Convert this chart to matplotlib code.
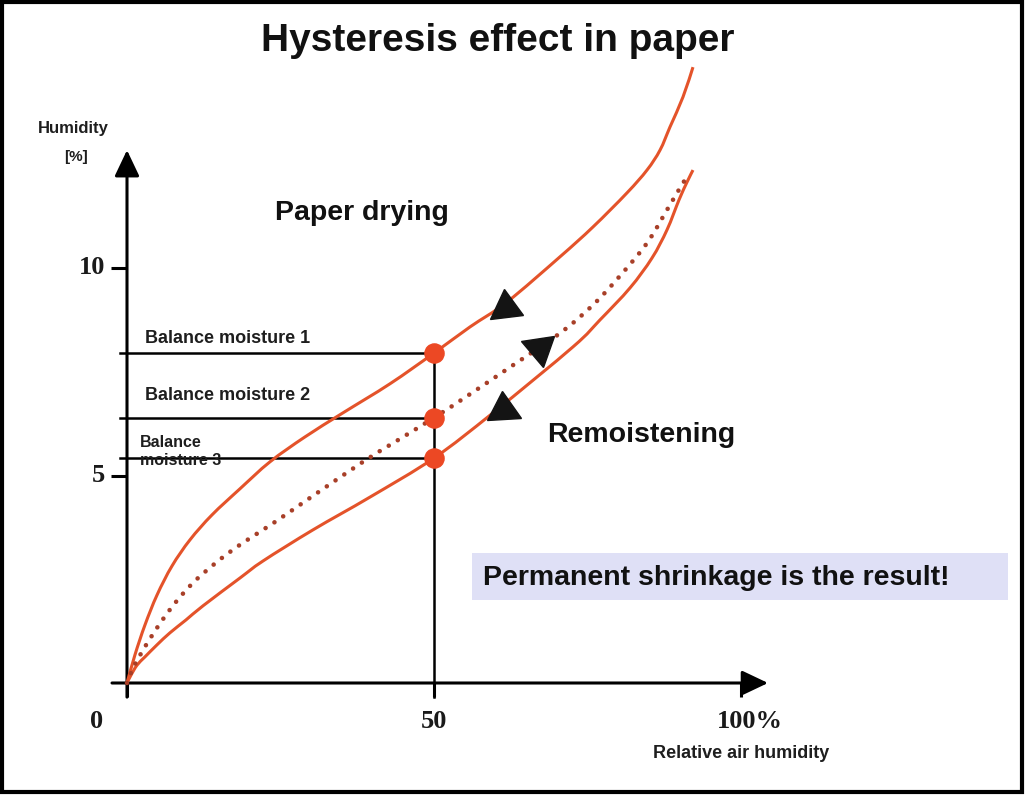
import numpy as np
import matplotlib.pyplot as plt
from matplotlib.markers import MarkerStyle
from matplotlib.transforms import Affine2D
from matplotlib.patches import Rectangle, PathPatch
from matplotlib.path import Path

# curve data (x: relative air humidity %, y: paper humidity %)
drying_x = [0, 1.30, 2.93, 4.89, 7.33, 10.26, 13.84, 18.40, 23.29, 28.99, 35.18,
            42.83, 50, 55.86, 61.89, 70.52, 75.90, 81.43, 84.69, 86.81, 88.44,
            90.55, 92.18]
drying_y = [0, 0.68, 1.40, 2.12, 2.82, 3.45, 4.05, 4.68, 5.33, 5.93, 6.51,
            7.21, 7.95, 8.58, 9.18, 10.27, 10.99, 11.81, 12.36, 12.84, 13.40,
            14.12, 14.84]

middle_x = [0, 0.98, 2.44, 4.23, 6.35, 8.63, 11.07, 13.84, 16.78, 20.03, 24.10,
            30.29, 38.44, 43.32, 50, 55.86, 62.38, 70.52, 75.90, 80.29, 84.69,
            87.95, 90.07, 91.37]
middle_y = [0, 0.36, 0.75, 1.18, 1.64, 2.07, 2.46, 2.82, 3.16, 3.49, 3.88,
            4.51, 5.33, 5.78, 6.39, 6.96, 7.61, 8.43, 9.11, 9.81, 10.60,
            11.40, 11.93, 12.24]

moist_x = [0, 0.65, 1.63, 2.93, 4.89, 7.0, 9.61, 12.38, 18.40, 22.15, 30.29,
           39.58, 50, 59.61, 72.64, 77.04, 81.92, 85.50, 87.95, 89.90, 91.21, 92.18]
moist_y = [0, 0.19, 0.43, 0.63, 0.92, 1.21, 1.52, 1.86, 2.53, 2.94, 3.69,
           4.48, 5.42, 6.51, 8.10, 8.75, 9.52, 10.24, 10.92, 11.64, 12.07, 12.36]

balance_x = 50
balance_y = [7.95, 6.39, 5.42]
balance_labels = ['Balance moisture 1', 'Balance moisture 2', 'Balance\nmoisture 3']

xticks = [0, 50, 100]
xtick_labels = ['0', '50', '100%']
yticks = [5, 10]
ytick_labels = ['5', '10']

# arrow heads on the curves: (x position, rotation in degrees)
arrow_drying = (61.6, 6)
arrow_middle = (67.8, -50)
arrow_moist = (61.2, 4)

curve_color = '#e4532a'
dot_color = '#ec4824'


# smooth bezier path through the read points (catmull-rom -> cubic bezier)
def curve_path(xs, ys):
    p = np.column_stack([xs, ys])
    n = len(p)
    verts = [p[0]]
    codes = [Path.MOVETO]
    for i in range(n - 1):
        p0 = p[i - 1] if i > 0 else p[i]
        p3 = p[i + 2] if i + 2 < n else p[i + 1]
        c1 = p[i] + (p[i + 1] - p0) / 6
        c2 = p[i + 1] - (p3 - p[i]) / 6
        verts += [c1, c2, p[i + 1]]
        codes += [Path.CURVE4] * 3
    return Path(verts, codes)


# pixel mapping of the original: origin at (127, 683), 6.14 px per %, 41.5 px per unit
W, H = 1026, 795
ox, oy, sx, sy = 127, 683, 6.14, 41.5

fig = plt.figure(figsize=(W / 100, H / 100), dpi=100)
ax = fig.add_axes([0, 0, 1, 1])
ax.set_xlim(-ox / sx, (W - ox) / sx)
ax.set_ylim((oy - H) / sy, oy / sy)
ax.axis('off')

# axes with arrow heads
arrow_kw = dict(arrowstyle='-|>,head_length=0.8,head_width=0.38', mutation_scale=20,
                lw=2.2, color='black', shrinkA=0, shrinkB=0)
ax.annotate('', xy=(104.4, 0), xytext=(-2.44, 0), arrowprops=arrow_kw)
ax.annotate('', xy=(0, 12.84), xytext=(0, -0.34), arrowprops=arrow_kw)

for t, lab, dx in zip(xticks, xtick_labels, [-4.9, 0, 1.5]):
    ax.plot([t, t], [0, -0.34], color='black', lw=2.2, solid_capstyle='butt')
    ax.text(t + dx, -0.92, lab, ha='center', va='center', fontsize=19,
            family='Liberation Serif', fontweight='bold', color='#1a1a1a')
for t, lab in zip(yticks, ytick_labels):
    ax.plot([-2.6, 0], [t, t], color='black', lw=2.2, solid_capstyle='butt')
    ax.text(-3.6, t, lab, ha='right', va='center', fontsize=19,
            family='Liberation Serif', fontweight='bold', color='#1a1a1a')

# balance lines
for by in balance_y:
    ax.plot([-1.1, balance_x], [by, by], color='black', lw=1.8, zorder=2)
ax.plot([balance_x, balance_x], [-0.34, max(balance_y)], color='black', lw=1.8, zorder=2)

# curves
ax.add_patch(PathPatch(curve_path(drying_x, drying_y), fill=False,
                       edgecolor=curve_color, lw=2.2, zorder=3))
ax.add_patch(PathPatch(curve_path(moist_x, moist_y), fill=False,
                       edgecolor=curve_color, lw=2.2, zorder=3))
ax.add_patch(PathPatch(curve_path(middle_x, middle_y), fill=False, edgecolor='#a83f28',
                       lw=3.3, linestyle=(0, (0.01, 2.3)), capstyle='round', zorder=3))

ax.scatter([balance_x] * len(balance_y), balance_y, s=190, color=dot_color, zorder=5)

# direction triangles
for (ax_x, rot), cx, cy in [(arrow_drying, drying_x, drying_y),
                            (arrow_middle, middle_x, middle_y),
                            (arrow_moist, moist_x, moist_y)]:
    m = MarkerStyle('^', transform=Affine2D().scale(1, 0.85).rotate_deg(rot))
    ax.plot(ax_x, np.interp(ax_x, cx, cy), marker=m, markersize=24,
            color='#141414', zorder=6)

# labels
small = dict(family='Liberation Sans', fontweight='bold', color='#1e1e1e')
ax.text(2.93, 8.31, balance_labels[0], fontsize=13, va='center', **small)
ax.text(2.93, 6.92, balance_labels[1], fontsize=13, va='center', **small)
ax.text(2.1, 5.58, balance_labels[2], fontsize=11.5, va='center', linespacing=1.25, **small)

ax.text(-8.8, 13.37, 'Humidity', fontsize=12, ha='center', va='center', **small)
ax.text(-8.3, 12.67, '[%]', fontsize=11, ha='center', va='center', **small)
ax.text(100, -1.71, 'Relative air humidity', fontsize=13, ha='center', va='center', **small)

big = dict(family='Liberation Sans', fontweight='bold', color='#111111')
ax.text(38.3, 11.33, 'Paper drying', fontsize=20.5, ha='center', va='center', **big)
ax.text(83.7, 5.98, 'Remoistening', fontsize=20.5, ha='center', va='center', **big)

ax.add_patch(Rectangle((56.19, 2.0), 87.3, 1.13, facecolor='#dfe0f6', edgecolor='none', zorder=1))
ax.text(58.0, 2.53, 'Permanent shrinkage is the result!', fontsize=20.5, va='center', **big)

fig.text(0.485, 0.948, 'Hysteresis effect in paper', fontsize=28, ha='center', va='center', **big)

# frame around the picture
fig.patches.append(Rectangle((0.002, 0.004), 0.994, 0.9935, transform=fig.transFigure,
                             fill=False, edgecolor='black', lw=3))

fig.savefig('out.png', dpi=100)
